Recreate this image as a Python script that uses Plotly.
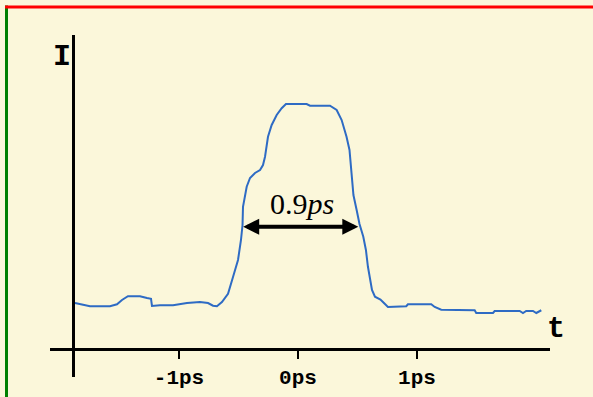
import plotly.graph_objects as go

# Pulse intensity trace (time in ps, intensity in arbitrary units)
t_ps = [-1.874, -1.832, -1.748, -1.664, -1.580, -1.521, -1.479, -1.429, -1.328, -1.269,
        -1.235, -1.227, -1.160, -1.050, -0.933, -0.824, -0.756, -0.714, -0.681, -0.639,
        -0.588, -0.546, -0.504, -0.479, -0.466, -0.462, -0.431, -0.403, -0.361, -0.319,
        -0.294, -0.277, -0.263, -0.252, -0.221, -0.179, -0.137, -0.101, 0.073, 0.101,
        0.269, 0.325, 0.367, 0.408, 0.433, 0.450, 0.466, 0.493, 0.517, 0.549,
        0.571, 0.588, 0.605, 0.622, 0.647, 0.693, 0.729, 0.756, 0.910, 0.924,
        1.120, 1.149, 1.204, 1.485, 1.498, 1.639, 1.653, 1.863, 1.891, 1.918,
        1.975, 2.003, 2.045]
intensity = [0.184, 0.179, 0.171, 0.171, 0.171, 0.179, 0.196, 0.211, 0.211, 0.204,
             0.201, 0.172, 0.175, 0.175, 0.184, 0.188, 0.184, 0.173, 0.171, 0.188,
             0.221, 0.288, 0.356, 0.436, 0.496, 0.569, 0.649, 0.684, 0.704, 0.716,
             0.736, 0.769, 0.809, 0.849, 0.896, 0.936, 0.963, 0.980, 0.980, 0.973,
             0.973, 0.956, 0.916, 0.849, 0.796, 0.689, 0.616, 0.556, 0.500, 0.449,
             0.396, 0.329, 0.276, 0.236, 0.209, 0.198, 0.181, 0.168, 0.171, 0.179,
             0.179, 0.168, 0.157, 0.155, 0.144, 0.144, 0.152, 0.152, 0.144, 0.152,
             0.152, 0.144, 0.155]

tick_vals = [-1, 0, 1]
tick_text = ["-1ps", "0ps", "1ps"]

fwhm_start = -0.473
fwhm_end = 0.507
fwhm_level = 0.489
fwhm_label = "0.9<i>ps</i>"

BG = "#FBF7DA"

fig = go.Figure()
fig.add_trace(go.Scatter(
    x=t_ps, y=intensity, mode="lines",
    line=dict(color="#2E6BC4", width=2),
    hoverinfo="skip", showlegend=False,
))

fig.update_layout(
    width=593, height=397,
    margin=dict(l=0, r=0, t=0, b=0),
    paper_bgcolor=BG, plot_bgcolor=BG,
    xaxis=dict(
        domain=[50 / 593, 550 / 593], range=[-2.084, 2.118],
        anchor="free", position=48 / 397,
        showline=True, linecolor="black", linewidth=2.5,
        showgrid=False, zeroline=False,
        ticks="outside", ticklen=8, tickwidth=2, tickcolor="black",
        tickvals=tick_vals, ticktext=tick_text,
        tickfont=dict(family="Liberation Mono", size=21, color="black", weight="bold"),
    ),
    yaxis=dict(
        domain=[20 / 397, 362 / 397], range=[-0.112, 1.256],
        anchor="free", position=73 / 593,
        showline=True, linecolor="black", linewidth=2.5,
        showgrid=False, zeroline=False, showticklabels=False, ticks="",
    ),
    shapes=[
        dict(type="line", xref="paper", yref="paper",
             x0=6.5 / 593, x1=6.5 / 593, y0=0, y1=1 - 5.5 / 397,
             line=dict(color="green", width=3), layer="above"),
        dict(type="line", xref="paper", yref="paper",
             x0=5 / 593, x1=1, y0=1 - 7 / 397, y1=1 - 7 / 397,
             line=dict(color="red", width=3), layer="above"),
    ],
    annotations=[
        dict(x=fwhm_end, y=fwhm_level, ax=fwhm_start, ay=fwhm_level,
             xref="x", yref="y", axref="x", ayref="y", text="",
             showarrow=True, arrowside="end+start", arrowhead=2, startarrowhead=2,
             arrowwidth=4, arrowsize=0.8, startarrowsize=0.8, arrowcolor="black",
             standoff=0, startstandoff=0),
        dict(x=0.03, y=0.584, xref="x", yref="y", text=fwhm_label, showarrow=False,
             font=dict(family="Liberation Serif", size=30, color="black")),
        dict(x=51 / 593, y=1 - 38 / 397, xref="paper", yref="paper", text="I",
             showarrow=False,
             font=dict(family="Liberation Mono", size=30, color="black", weight="bold")),
        dict(x=567 / 593, y=1 - 348 / 397, xref="paper", yref="paper", text="t",
             showarrow=False,
             font=dict(family="Liberation Mono", size=30, color="black", weight="bold")),
    ],
)

fig.write_html(
    "out.html",
    config={"displayModeBar": False},
    post_script="document.body.style.margin='0';document.body.style.overflow='hidden';",
)
